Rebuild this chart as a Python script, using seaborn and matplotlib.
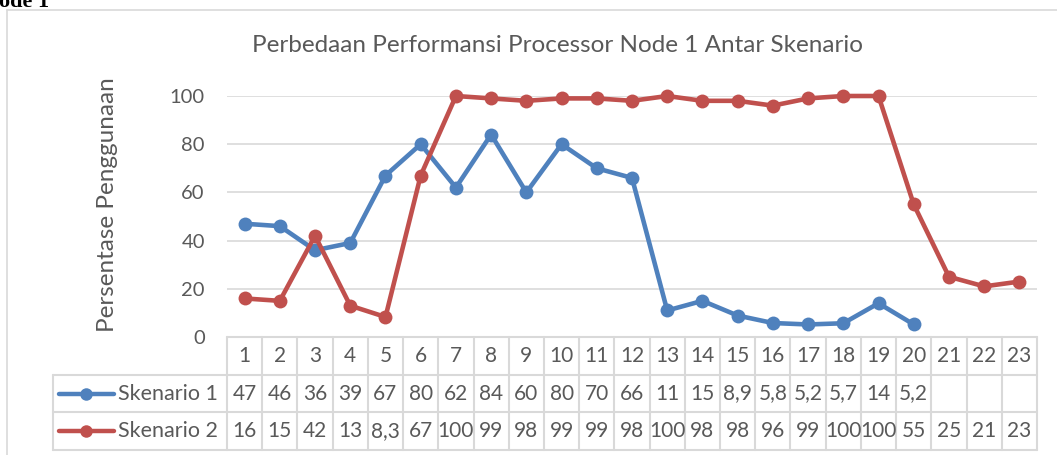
import numpy as np
import pandas as pd
import matplotlib
matplotlib.use("Agg")
import matplotlib.pyplot as plt
import seaborn as sns

# data (table values)
categories = [str(i) for i in range(1, 24)]
skenario_1 = [47, 46, 36, 39, 67, 80, 62, 84, 60, 80, 70, 66, 11, 15, 8.9, 5.8, 5.2, 5.7, 14, 5.2,
              np.nan, np.nan, np.nan]
skenario_2 = [16, 15, 42, 13, 8.3, 67, 100, 99, 98, 99, 99, 98, 100, 98, 98, 96, 99, 100, 100, 55,
              25, 21, 23]
series_names = ["Skenario 1", "Skenario 2"]
colors = ["#4F81BD", "#C0504D"]
y_ticks = [0, 20, 40, 60, 80, 100]

title = "Perbedaan Performansi Processor Node 1 Antar Skenario"
y_label = "Persentase Penggunaan"

df = pd.concat([
    pd.DataFrame({"idx": range(len(categories)), "value": skenario_1, "series": series_names[0]}),
    pd.DataFrame({"idx": range(len(categories)), "value": skenario_2, "series": series_names[1]}),
], ignore_index=True)

sns.set_style("white")
plt.rcParams["font.family"] = ["Lato", "DejaVu Sans"]

W, H = 1057, 455
fig = plt.figure(figsize=(W / 100, H / 100), dpi=100)


def fx(px):
    return px / W


def fy(py):
    return 1 - py / H


# layout in pixels
plot_l, plot_r, plot_t, plot_b = 227, 1037, 96, 337
tab_l, tab_b = 53, 450
cell_w = (plot_r - plot_l) / len(categories)
grid_c = "#D9D9D9"
text_c = "#595959"

# chart border (Excel chart area)
fig.add_artist(plt.Line2D([fx(7), fx(7)], [fy(10), 0], color=grid_c, lw=1.2))
fig.add_artist(plt.Line2D([fx(7), 1], [fy(10), fy(10)], color=grid_c, lw=1.2))

# cut-off heading above chart
fig.text(fx(-17), fy(7), "Node 1", family="Liberation Serif", fontweight="bold",
         fontsize=16, color="black", va="baseline", ha="left")

ax = fig.add_axes([fx(plot_l), fy(plot_b), fx(plot_r - plot_l), (plot_b - plot_t) / H])
sns.lineplot(data=df, x="idx", y="value", hue="series", palette=colors, marker="o",
             markersize=10, markeredgewidth=0, linewidth=3.3, legend=False, ax=ax,
             clip_on=False, zorder=3)
ax.set_xlim(-0.5, len(categories) - 0.5)
ax.set_ylim(0, 100)
ax.set_yticks(y_ticks)
ax.set_xticks([])
ax.set_xlabel("")
ax.set_ylabel("")
ax.tick_params(axis="y", length=0, pad=16, labelsize=14.5, labelcolor=text_c)
for s in ax.spines.values():
    s.set_visible(False)
for t in y_ticks[1:]:
    ax.axhline(t, color=grid_c, lw=1.2, zorder=1)

fig.text(fx(557), fy(45), title, ha="center", va="center", fontsize=17.5, color=text_c)
fig.text(fx(107), fy(205), y_label, rotation=90, ha="center", va="center",
         fontsize=17.5, color=text_c)

# data table below the plot
tx0 = -0.5 - (plot_l - tab_l) / cell_w
tab = fig.add_axes([fx(tab_l), fy(tab_b), fx(plot_r - tab_l), (tab_b - plot_b) / H])
tab.set_xlim(tx0, len(categories) - 0.5)
tab.set_ylim(3, 0)
tab.axis("off")
n = len(categories)
tab.plot([-0.5, n - 0.5], [0, 0], color=grid_c, lw=1.5, clip_on=False)
for yy in [1, 2, 3]:
    tab.plot([tx0, n - 0.5], [yy, yy], color=grid_c, lw=1.5, clip_on=False)
for k in range(n + 1):
    tab.plot([k - 0.5, k - 0.5], [0, 3], color=grid_c, lw=1.5, clip_on=False)
tab.plot([tx0, tx0], [1, 3], color=grid_c, lw=1.5, clip_on=False)


def fmt(v):
    if np.isnan(v):
        return ""
    if float(v).is_integer():
        return str(int(v))
    return f"{v:.1f}".replace(".", ",")


for i, c in enumerate(categories):
    tab.text(i, 0.5, c, ha="center", va="center", fontsize=15, color=text_c)
for r, (vals, name, col) in enumerate(zip([skenario_1, skenario_2], series_names, colors)):
    yc = 1.5 + r
    for i, v in enumerate(vals):
        tab.text(i, yc, fmt(v), ha="center", va="center", fontsize=15, color=text_c)
    tab.plot([tx0 + 6 / cell_w, tx0 + 61 / cell_w], [yc, yc], color=col, lw=3.2,
             solid_capstyle="round")
    tab.plot([tx0 + 33 / cell_w], [yc], "o", color=col, markersize=9, markeredgewidth=0)
    tab.text(tx0 + 65 / cell_w, yc, name, ha="left", va="center", fontsize=15.5, color=text_c)

fig.savefig("out.png", dpi=100)
